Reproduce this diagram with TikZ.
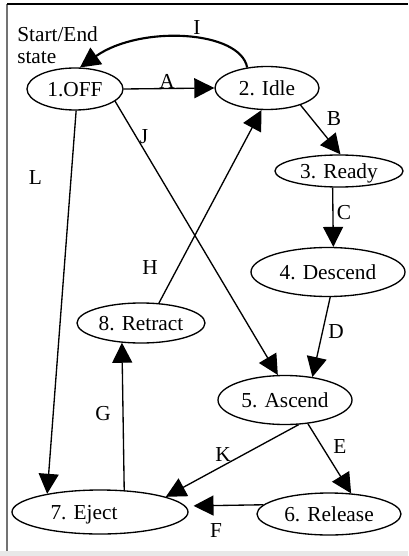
\documentclass[tikz,border=0pt]{standalone}
\usepackage{fontspec}
\setmainfont{Liberation Serif}
\usetikzlibrary{shapes.geometric,arrows.meta}

\tikzset{
  state/.style={ellipse, draw, line width=1pt, inner sep=0pt, text depth=0pt,
                font=\fontsize{16}{19}\selectfont},
  txt/.style={inner sep=0pt, font=\fontsize{16}{19}\selectfont},
  elabel/.style={txt, text depth=0pt},
  trans/.style={line width=1pt, -{Triangle[length=15pt,width=15pt]}},
  loopback/.style={line width=1.6pt, -{Triangle[length=15pt,width=15pt]}}
}

\begin{document}
\begin{tikzpicture}[x=0.75pt,y=-0.75pt]
  % page frame
  \useasboundingbox (0,0) rectangle (408,556);
  \fill[white] (0,0) rectangle (408,556);
  \fill[black!9] (0,551) rectangle (408,556);
  \draw[black!55, line width=0.9pt] (7,4) -- (7,551);
  \draw[line width=1pt] (7,4) -- (408,4);

  % states
  \node[state, minimum width=72pt,   minimum height=31.5pt]  (off)      at (75,89)   {1.OFF};
  \node[state, minimum width=78pt,   minimum height=32.25pt] (idle)     at (267,88)  {2. Idle};
  \node[state, minimum width=96pt,   minimum height=24pt]    (ready)    at (339,171) {3. Ready};
  \node[state, minimum width=115.5pt,minimum height=36.75pt] (descend)  at (328,272) {4. Descend};
  \node[state, minimum width=100.5pt,minimum height=36.75pt] (ascend)   at (285,400) {5. Ascend};
  \node[state, minimum width=108pt,  minimum height=31.5pt]  (release)  at (329,514) {6. Release};
  \node[state, minimum width=132pt,  minimum height=33pt]    (eject)    at (100,512) {};
  \node[txt, text depth=0pt]                                 (ejecttxt) at (84,512)  {7. Eject};
  \node[state, minimum width=96pt,   minimum height=30pt]    (retract)  at (141,323) {8. Retract};

  % start/end note
  \node[txt, anchor=north west, align=left, font=\fontsize{16}{16.5}\selectfont]
       (startnote) at (17,26.5) {Start/End\\state};

  % transitions
  \draw[trans] (off.east) -- (idle.west);
  \draw[loopback] (idle.134) .. controls (240,30) and (140,25) .. (off.77);
  \draw[trans] (idle.-27) -- (ready.85);
  \draw[trans] (ready.249.4) -- (descend.78.4);
  \draw[trans] (descend.275) -- (ascend.40);
  \draw[trans] (off.-17) -- (ascend.106);
  \draw[trans] (off.-87) -- (eject.161);
  \draw[trans] (retract.48) -- (idle.256);
  \draw[trans] (eject.42.7) -- (retract.226.8);
  \draw[trans] (ascend.-61.6) -- (eject.13);
  \draw[trans] (ascend.-46.2) -- (release.43.7);
  \draw[trans, shorten >=6pt] (release.172) -- (eject.4.8);

  % transition labels
  \node[elabel] (la) at (167,81)  {A};
  \node[elabel] (lb) at (334,119) {B};
  \node[elabel] (lc) at (344,212) {C};
  \node[elabel] (ld) at (336,332) {D};
  \node[elabel] (le) at (340,447) {E};
  \node[elabel] (lf) at (216,531) {F};
  \node[elabel] (lg) at (103,413) {G};
  \node[elabel] (lh) at (150,268) {H};
  \node[elabel] (li) at (197,28)  {I};
  \node[elabel] (lj) at (144,137) {J};
  \node[elabel] (lk) at (223,455) {K};
  \node[elabel] (ll) at (35.5,178) {L};
\end{tikzpicture}
\end{document}
